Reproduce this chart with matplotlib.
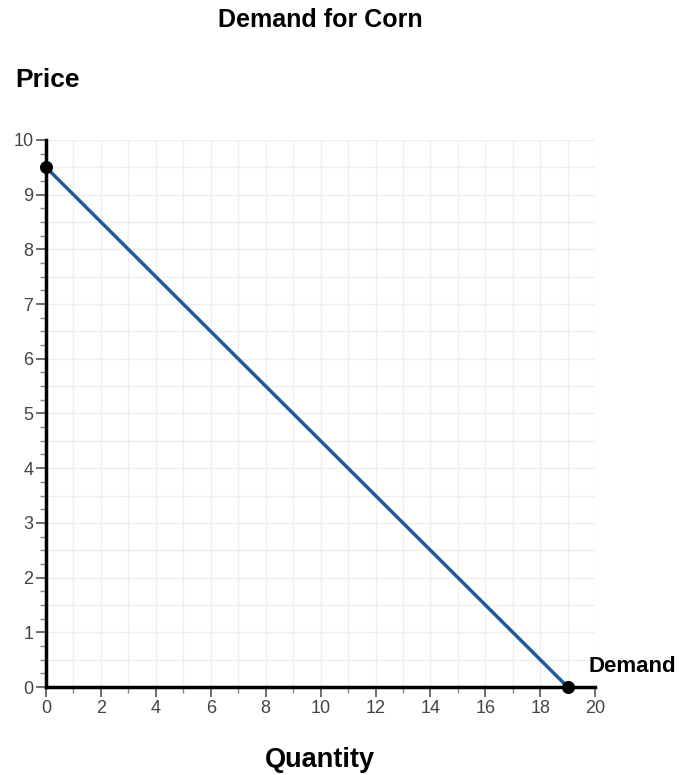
import matplotlib.pyplot as plt
import numpy as np

plt.rcParams['font.family'] = ['Liberation Sans', 'DejaVu Sans']

# Demand curve endpoints (quantity, price)
quantity = [0, 19]
price = [9.5, 0]

fig = plt.figure(figsize=(6.81, 7.75), dpi=100)
ax = fig.add_axes([0.0675, 0.1135, 0.8065, 0.706])

ax.plot(quantity, price, color='#1f5b9a', linewidth=2.5, zorder=3)
ax.scatter(quantity, price, color='black', s=70, zorder=4, clip_on=False)

ax.set_xlim(0, 20)
ax.set_ylim(0, 10)

# light grid
ax.set_xticks(np.arange(0, 21, 2))
ax.set_xticks(np.arange(0, 21, 1), minor=True)
ax.set_yticks(np.arange(0, 11, 1))
ax.set_yticks(np.arange(0, 10.01, 0.25), minor=True)
for v in np.arange(0, 21, 1):
    ax.axvline(v, color='#efefef', linewidth=1, zorder=0)
for v in np.arange(0, 10.01, 0.5):
    ax.axhline(v, color='#efefef', linewidth=1, zorder=0)

for s in ['top', 'right']:
    ax.spines[s].set_visible(False)
for s in ['left', 'bottom']:
    ax.spines[s].set_linewidth(2.5)
    ax.spines[s].set_color('black')
    ax.spines[s].set_zorder(2)

ax.tick_params(axis='both', which='major', length=7, width=1.2, color='#555555',
               labelsize=13, labelcolor='#444444', pad=2)
ax.tick_params(axis='both', which='minor', length=4, width=1, color='#888888')

fig.text(0.47, 0.974, 'Demand for Corn', ha='center', va='center',
         fontsize=18, fontweight='bold')
fig.text(0.022, 0.897, 'Price', ha='left', va='center',
         fontsize=19, fontweight='bold')
fig.text(0.47, 0.019, 'Quantity', ha='center', va='center',
         fontsize=19.5, fontweight='bold')
ax.text(19.75, 0.38, 'Demand', ha='left', va='center',
        fontsize=16, fontweight='bold', clip_on=False)

fig.savefig('out.png', dpi=100)
